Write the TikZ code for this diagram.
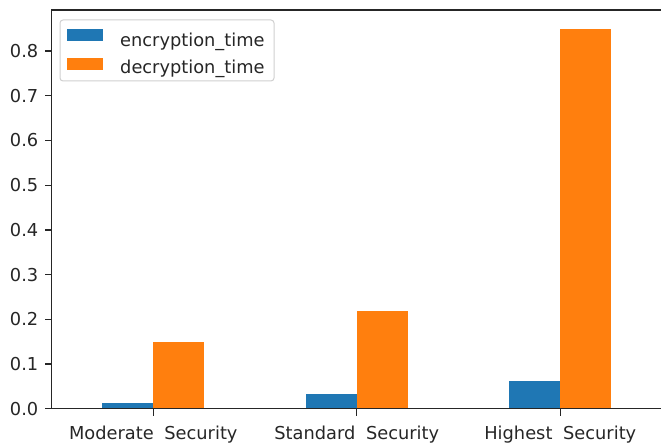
\documentclass[tikz,border=0pt]{standalone}
\usepackage{fontspec}
\setmainfont{DejaVu Sans}
\definecolor{encblue}{HTML}{1F77B4}
\definecolor{decorange}{HTML}{FF7F0E}
\definecolor{inkgray}{HTML}{262626}
\definecolor{framegray}{HTML}{D0D0D0}
\newcommand{\wordgap}{\hspace{0.6em}}
\begin{document}
\begin{tikzpicture}[x=1pt,y=1pt,
  font=\fontsize{17.8}{20}\selectfont,
  every node/.style={text=inkgray, inner sep=0pt},
  spine/.style={draw=inkgray, line width=1.3pt},
  tickmark/.style={draw=inkgray, line width=1.3pt},
  encbar/.style={fill=encblue},
  decbar/.style={fill=decorange},
  legendframe/.style={draw=framegray, line width=1pt, fill=white, rounded corners=3pt}]
\useasboundingbox (0,0) rectangle (661,442);

% bars: category index / encryption time / decryption time
\foreach \c/\e/\d in {0/0.0134/0.1485, 1/0.0336/0.218, 2/0.0626/0.849}{
  \fill[encbar] ({153.3+203.5*\c-50.9},33.3) rectangle ({153.3+203.5*\c},{33.3+447*\e});
  \fill[decbar] ({153.3+203.5*\c},33.3) rectangle ({153.3+203.5*\c+50.9},{33.3+447*\d});
}

% axes frame
\draw[spine] (661,432) -- (51.5,432) -- (51.5,33.3) -- (661,33.3);

% y ticks and labels
\foreach \v in {0,...,8}{
  \draw[tickmark] (51.5,{33.3+44.7*\v}) -- (45,{33.3+44.7*\v});
  \node[anchor=east] (ylab\v) at (38.5,{33.3+44.7*\v}) {0.\v};
}

% x ticks and category labels
\foreach \c/\name in {0/Moderate, 1/Standard, 2/Highest}{
  \draw[tickmark] ({153.3+203.5*\c},33.3) -- ({153.3+203.5*\c},26.5);
  \node[anchor=base] (xlab\c) at ({153.3+203.5*\c},3) {\name\wordgap Security};
}

% legend
\draw[legendframe] (60,361) rectangle (274,422);
\fill[encbar] (67,401) rectangle (103,413);
\fill[decbar] (67,372) rectangle (103,384);
\node[anchor=base west] (legenc) at (120,395.3) {encryption\_time};
\node[anchor=base west] (legdec) at (120,368) {decryption\_time};
\end{tikzpicture}
\end{document}
